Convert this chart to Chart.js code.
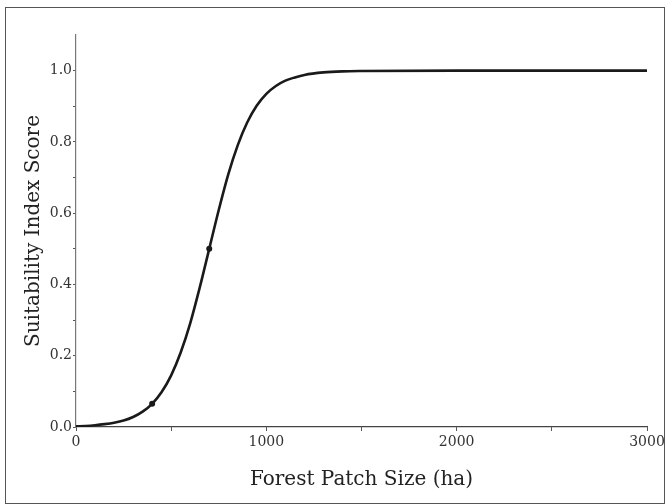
<!DOCTYPE html>
<html>
<head>
<meta charset="utf-8">
<script src="https://cdn.jsdelivr.net/npm/chart.js@4.4.1/dist/chart.umd.min.js"></script>
<style>
  body { margin: 0; background: #fff; }
  #wrap { position: relative; width: 666px; height: 504px; }
  #frame { position: absolute; left: 5px; top: 7px; width: 658px; height: 495px; border: 1px solid #555; pointer-events: none; }
</style>
</head>
<body>
<div id="wrap">
  <canvas id="chart" width="666" height="504"></canvas>
  <div id="frame"></div>
</div>
<script>
// Curve: patch size (ha) -> suitability index
const patchSize = [0, 50, 100, 150, 200, 250, 300, 350, 400, 450, 500, 550, 600, 650, 700,
  750, 800, 850, 900, 950, 1000, 1050, 1100, 1150, 1200, 1300, 1400, 1500, 2000, 2500, 3000];
const suitability = [0.002, 0.003, 0.005, 0.008, 0.012, 0.018, 0.028, 0.043, 0.065, 0.098, 0.145, 0.209, 0.291, 0.391, 0.5,
  0.609, 0.709, 0.791, 0.855, 0.902, 0.935, 0.957, 0.972, 0.981, 0.988, 0.995, 0.998, 0.999, 1.0, 1.0, 1.0];
// marked points on the curve
const markX = [400, 700];
const markY = [0.065, 0.5];

const xLabels = [0, 1000, 2000, 3000];
const yLabels = [0, 0.2, 0.4, 0.6, 0.8, 1.0];

const serif = "'DejaVu Serif', serif";

new Chart("chart", {
  type: "line",
  data: {
    datasets: [
      {
        data: patchSize.map((x, i) => ({ x: x, y: suitability[i] })),
        borderColor: "#1a1a1a",
        borderWidth: 2.6,
        pointRadius: 0,
        cubicInterpolationMode: "monotone",
        fill: false,
      },
      {
        data: markX.map((x, i) => ({ x: x, y: markY[i] })),
        showLine: false,
        pointRadius: 3,
        pointBackgroundColor: "#1a1a1a",
        pointBorderWidth: 0,
      },
    ],
  },
  options: {
    responsive: false,
    animation: false,
    layout: { padding: { left: 0, right: 19, top: 35, bottom: 0 } },
    plugins: { legend: { display: false }, tooltip: { enabled: false } },
    scales: {
      x: {
        type: "linear",
        min: 0,
        max: 3000,
        grid: { drawOnChartArea: false, drawTicks: true, tickLength: 4, tickColor: "#555" },
        border: { color: "#444", width: 1.2 },
        ticks: {
          stepSize: 500,
          padding: 3,
          color: "#333",
          font: { family: serif, size: 14 },
          callback: (v) => (xLabels.includes(v) ? String(v) : ""),
        },
        title: {
          display: true,
          text: "Forest Patch Size (ha)",
          color: "#222",
          font: { family: serif, size: 20 },
          padding: { top: 10, bottom: 12 },
        },
        afterFit: (s) => { s.height = 77; s.paddingLeft = 0; s.paddingRight = 0; },
      },
      y: {
        min: 0,
        max: 1.1,
        grid: { drawOnChartArea: false, drawTicks: true, tickLength: 3, tickColor: "#555" },
        border: { color: "#777", width: 1.2 },
        afterBuildTicks: (s) => { s.ticks = s.ticks.filter((t) => t.value <= 1.0001); },
        ticks: {
          stepSize: 0.1,
          padding: 1,
          color: "#333",
          font: { family: serif, size: 14 },
          callback: (v) => {
            const hit = yLabels.find((l) => Math.abs(l - v) < 1e-6);
            return hit === undefined ? "" : hit.toFixed(1);
          },
        },
        title: {
          display: true,
          text: "Suitability Index Score",
          color: "#222",
          font: { family: serif, size: 20 },
          padding: { top: 22, bottom: 0 },
        },
        afterFit: (s) => { s.width = 76; },
      },
    },
  },
});
</script>
</body>
</html>
